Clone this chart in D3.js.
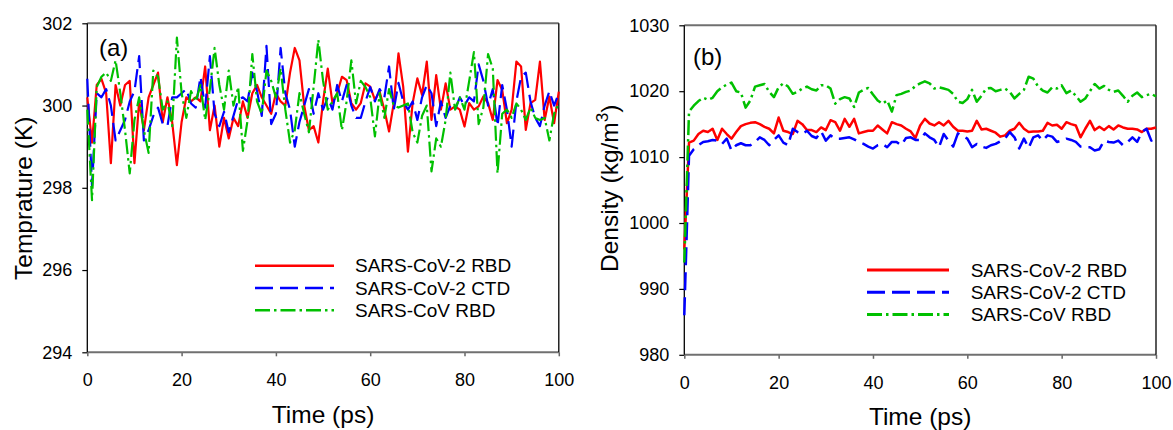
<!DOCTYPE html>
<html>
<head>
<meta charset="utf-8">
<script src="https://d3js.org/d3.v7.min.js"></script>
<style>
body { margin: 0; background: #fff; }
svg { display: block; font-family: "Liberation Sans", Arial, sans-serif; }
</style>
</head>
<body>
<svg></svg>
<script>
// sampling grid, ps
let times = d3.range(0, 101);

let seriesNames = ["SARS-CoV-2 RBD", "SARS-CoV-2 CTD", "SARS-CoV RBD"];
let timeTicks = [0, 20, 40, 60, 80, 100];
let tempTicks = [294, 296, 298, 300, 302];
let densTicks = [980, 990, 1000, 1010, 1020, 1030];

// (a) temperature, K
let tempRbd2 = [300.2,299.1,300.5,300.65,300.3,298.6,300.5,300.0,300.5,300.6,
298.6,300.1,299.4,300.2,300.5,300.8,299.6,300.2,299.6,298.55,
299.6,300.2,300.1,300.2,300.1,300.95,299.4,300.0,299.0,299.7,
299.2,299.7,299.5,300.1,299.7,300.3,300.5,300.2,300.0,299.8,
300.3,300.1,300.0,300.8,301.4,301.1,300.0,299.4,299.5,299.1,
300.1,300.9,300.06,300.3,300.7,300.62,300.06,299.9,300.06,300.54,
300.46,300.14,300.34,299.9,299.37,300.06,301.27,300.46,298.88,300.06,
300.66,300.26,301.07,299.65,300.74,299.9,300.54,299.9,299.98,299.9,
299.49,300.06,299.9,299.98,300.22,300.06,299.65,300.62,300.38,299.57,
299.9,301.07,300.95,299.41,300.06,300.14,301.07,299.65,300.22,299.57,
300.34];
let tempCtd2 = [300.65,298.05,300.3,300.2,300.4,300.0,299.15,299.4,299.65,300.1,
300.35,301.2,299.15,299.4,299.75,299.95,299.55,299.5,300.2,300.2,
300.3,300.4,300.05,299.95,300.7,299.95,301.2,299.8,299.5,299.85,
299.35,299.75,300.15,300.2,300.1,300.8,300.35,299.75,301.45,299.55,
299.8,301.4,300.3,299.9,299.0,299.6,300.0,300.4,299.8,300.3,
299.9,300.2,299.9,300.5,300.1,300.5,300.0,299.7,299.7,300.1,
300.45,300.1,300.4,300.2,300.95,299.9,300.55,300.1,299.9,300.1,
299.65,300.2,300.5,300.3,299.5,300.1,299.7,300.0,299.9,300.2,
300.0,300.2,300.1,301.0,300.6,300.0,300.4,299.5,300.5,299.9,
299.0,300.1,300.7,300.8,300.1,299.7,299.5,300.0,300.35,300.0,
300.3];
let tempRbd1 = [299.9,297.7,300.45,300.7,300.8,300.6,301.1,300.3,299.4,298.35,
299.65,300.2,299.4,298.85,300.85,300.7,299.9,300.1,299.5,301.65,
300.3,299.7,300.35,300.1,300.5,299.65,300.4,301.4,300.5,299.9,
300.85,300.0,300.45,298.9,299.65,301.25,300.1,299.8,300.85,300.6,
300.2,300.9,299.9,299.1,299.4,300.3,299.8,299.35,300.45,301.6,
300.6,299.9,300.1,300.3,299.4,300.1,301.1,300.05,300.6,300.45,
300.2,299.25,300.3,299.7,300.4,300.0,299.95,300.0,300.05,299.35,
299.1,299.75,300.0,298.4,299.2,299.0,299.65,300.8,299.9,300.2,
299.9,300.6,301.3,299.55,299.95,301.25,300.9,298.35,299.8,299.9,
299.7,300.05,299.9,299.65,299.95,299.7,299.65,299.7,299.15,299.8,
300.05];

// (b) density, kg/m3
let densRbd2 = [996.0,1012.2,1012.5,1013.5,1014.0,1013.8,1014.3,1012.6,1014.3,1013.5,
1012.8,1013.8,1014.7,1015.0,1015.2,1015.3,1015.0,1014.6,1014.3,1013.6,
1016.0,1014.0,1013.8,1013.5,1015.5,1015.0,1014.1,1014.1,1013.8,1014.5,
1014.1,1015.6,1015.3,1014.0,1015.8,1014.6,1015.8,1013.6,1013.8,1014.0,
1014.0,1014.8,1014.2,1013.6,1015.3,1015.0,1014.8,1014.3,1013.9,1012.9,
1014.8,1015.8,1015.1,1014.8,1015.3,1014.8,1015.5,1014.6,1014.0,1014.0,
1013.9,1014.0,1015.5,1014.2,1014.3,1014.0,1013.7,1013.1,1013.3,1014.0,
1014.3,1015.2,1014.3,1013.8,1013.9,1013.9,1014.0,1015.2,1014.8,1014.9,
1014.3,1015.3,1015.0,1014.8,1013.0,1014.3,1015.5,1014.1,1014.6,1014.1,
1014.7,1014.2,1014.8,1014.5,1014.3,1014.3,1014.2,1013.8,1014.3,1014.3,
1014.5];
let densCtd2 = [986.0,1010.2,1011.2,1011.8,1012.3,1012.4,1012.6,1012.5,1012.0,1012.8,
1011.0,1011.8,1012.1,1011.8,1011.8,1012.3,1013.0,1012.6,1011.8,1012.6,
1013.3,1012.2,1011.8,1014.3,1013.8,1013.5,1014.0,1013.2,1012.9,1013.9,
1012.5,1013.3,1012.8,1012.8,1012.9,1013.0,1012.7,1012.3,1012.0,1011.6,
1011.3,1011.8,1012.0,1011.5,1012.3,1012.3,1011.8,1012.9,1013.0,1012.6,
1012.6,1013.6,1013.0,1012.6,1011.5,1013.5,1012.5,1011.6,1013.6,1013.2,
1012.8,1011.5,1012.0,1011.6,1011.4,1011.8,1012.0,1012.4,1012.8,1013.8,
1013.0,1011.3,1012.8,1011.4,1013.0,1013.3,1012.5,1013.3,1013.1,1012.3,
1012.5,1012.8,1012.6,1012.3,1011.6,1011.5,1011.5,1011.0,1011.2,1012.5,
1012.3,1012.2,1012.5,1011.8,1012.3,1013.0,1012.3,1013.8,1014.3,1012.5,
1012.8];
let densRbd1 = [994.0,1016.9,1017.8,1018.5,1019.0,1018.7,1019.0,1020.0,1020.6,1021.0,
1021.3,1020.0,1019.8,1017.5,1018.6,1020.7,1020.9,1021.1,1019.9,1019.1,
1020.6,1021.2,1020.7,1019.6,1019.9,1020.4,1020.7,1020.3,1020.1,1020.9,
1020.9,1020.4,1018.1,1018.8,1019.1,1018.9,1017.6,1019.8,1020.2,1020.5,
1019.5,1018.6,1018.1,1018.6,1016.9,1019.4,1019.6,1019.9,1020.1,1020.8,
1021.2,1021.5,1021.2,1020.4,1020.6,1020.4,1020.2,1019.6,1018.4,1018.2,
1018.8,1020.2,1018.4,1019.3,1020.4,1020.5,1020.0,1020.2,1020.4,1019.9,
1018.9,1019.6,1020.2,1022.2,1021.9,1020.7,1020.1,1019.8,1020.6,1020.4,
1020.9,1019.7,1020.1,1019.3,1018.4,1018.9,1020.0,1021.1,1020.4,1020.8,
1020.2,1019.9,1020.1,1019.3,1018.4,1019.3,1019.8,1019.1,1019.4,1019.6,
1019.2];

let colors = ["#ff0000", "#0000ff", "#00c000"];
let dashes = [null, "18,7", "15,4,2.5,4"];

let svg = d3.select("svg")
    .attr("width", 1173)
    .attr("height", 430);

svg.append("rect").attr("width", 1173).attr("height", 430).attr("fill", "#fff");

function drawPanel(p) {
    let g = svg.append("g");

    let scaleX = d3.scaleLinear().domain([0, 100]).range([p.left, p.right]);
    let scaleY = d3.scaleLinear().domain(p.yDomain).range([p.bottom, p.top]);

    // y axis, ticks outward
    let gy = g.append("g")
        .attr("transform", `translate(${p.left},0)`)
        .call(d3.axisLeft(scaleY).tickValues(p.yTicks).tickFormat(d3.format("d"))
            .tickSize(5).tickSizeOuter(0).tickPadding(10));
    // x axis
    let gx = g.append("g")
        .attr("transform", `translate(0,${p.bottom})`)
        .call(d3.axisBottom(scaleX).tickValues(timeTicks).tickFormat(d3.format("d"))
            .tickSize(4).tickSizeOuter(0).tickPadding(17));

    [gy, gx].forEach(a => {
        a.select(".domain").remove();
        a.selectAll("text")
            .attr("fill", "#000")
            .style("font-size", "18px")
            .style("font-family", "'Liberation Sans', Arial, sans-serif");
    });
    gy.selectAll("line").attr("stroke", "#000").attr("stroke-width", 1.2);
    gx.selectAll("line").attr("stroke", "#666").attr("stroke-width", 1.5);

    // frame
    g.append("line").attr("x1", p.left).attr("x2", p.right).attr("y1", p.top).attr("y2", p.top)
        .attr("stroke", "#707070").attr("stroke-width", 2);
    g.append("line").attr("x1", p.left).attr("x2", p.right).attr("y1", p.bottom).attr("y2", p.bottom)
        .attr("stroke", "#707070").attr("stroke-width", 2);
    g.append("line").attr("x1", p.left).attr("x2", p.left).attr("y1", p.top).attr("y2", p.bottom)
        .attr("stroke", "#000").attr("stroke-width", 1.3);
    g.append("line").attr("x1", p.right).attr("x2", p.right).attr("y1", p.top).attr("y2", p.bottom)
        .attr("stroke", "#000").attr("stroke-width", 1.3);

    // data lines
    let line = d3.line()
        .x((d, i) => scaleX(times[i]))
        .y(d => scaleY(d));

    p.series.forEach((s, k) => {
        g.append("path")
            .datum(s)
            .attr("d", line)
            .attr("fill", "none")
            .attr("stroke", colors[k])
            .attr("stroke-width", p.lineWidth)
            .attr("stroke-dasharray", dashes[k])
            .attr("stroke-linejoin", "round");
    });

    // panel label
    g.append("text")
        .attr("x", p.labelX).attr("y", p.labelY)
        .style("font-size", "24px")
        .text(p.label);

    // x title
    g.append("text")
        .attr("x", (p.left + p.right) / 2).attr("y", p.xTitleY)
        .attr("text-anchor", "middle")
        .style("font-size", "24.5px")
        .text("Time (ps)");

    // y title
    let yt = g.append("text")
        .attr("transform", `translate(${p.yTitleX},${p.yTitleY}) rotate(-90)`)
        .style("font-size", "24.5px");
    p.yTitle(yt);

    // legend
    seriesNames.forEach((name, k) => {
        let y = p.legY + k * p.legStep;
        g.append("line")
            .attr("x1", p.legX1).attr("x2", p.legX2).attr("y1", y).attr("y2", y)
            .attr("stroke", colors[k])
            .attr("stroke-width", p.legWidth)
            .attr("stroke-dasharray", dashes[k]);
        g.append("text")
            .attr("x", p.legTextX).attr("y", y + 6.7)
            .style("font-size", "19px")
            .text(name);
    });
}

drawPanel({
    left: 87.3, right: 558.8, top: 23.3, bottom: 352.3,
    yDomain: [294, 302], yTicks: tempTicks,
    series: [tempRbd2, tempCtd2, tempRbd1],
    lineWidth: 2.2,
    label: "(a)", labelX: 99, labelY: 56,
    xTitleY: 423,
    yTitleX: 31.5, yTitleY: 280,
    yTitle: t => t.text("Temprature (K)"),
    legX1: 255, legX2: 334, legTextX: 355, legY: 265.7, legStep: 22.3, legWidth: 2.5
});

drawPanel({
    left: 684.3, right: 1156, top: 25.3, bottom: 354.8,
    yDomain: [980, 1030], yTicks: densTicks,
    series: [densRbd2, densCtd2, densRbd1],
    lineWidth: 2.5,
    label: "(b)", labelX: 693, labelY: 64.5,
    xTitleY: 425,
    yTitleX: 618, yTitleY: 272,
    yTitle: t => {
        t.append("tspan").text("Density (kg/m");
        t.append("tspan").attr("dy", -10).style("font-size", "17px").text("3");
        t.append("tspan").attr("dy", 10).text(")");
    },
    legX1: 867, legX2: 949, legTextX: 970.7, legY: 270, legStep: 22.3, legWidth: 3
});
</script>
</body>
</html>
